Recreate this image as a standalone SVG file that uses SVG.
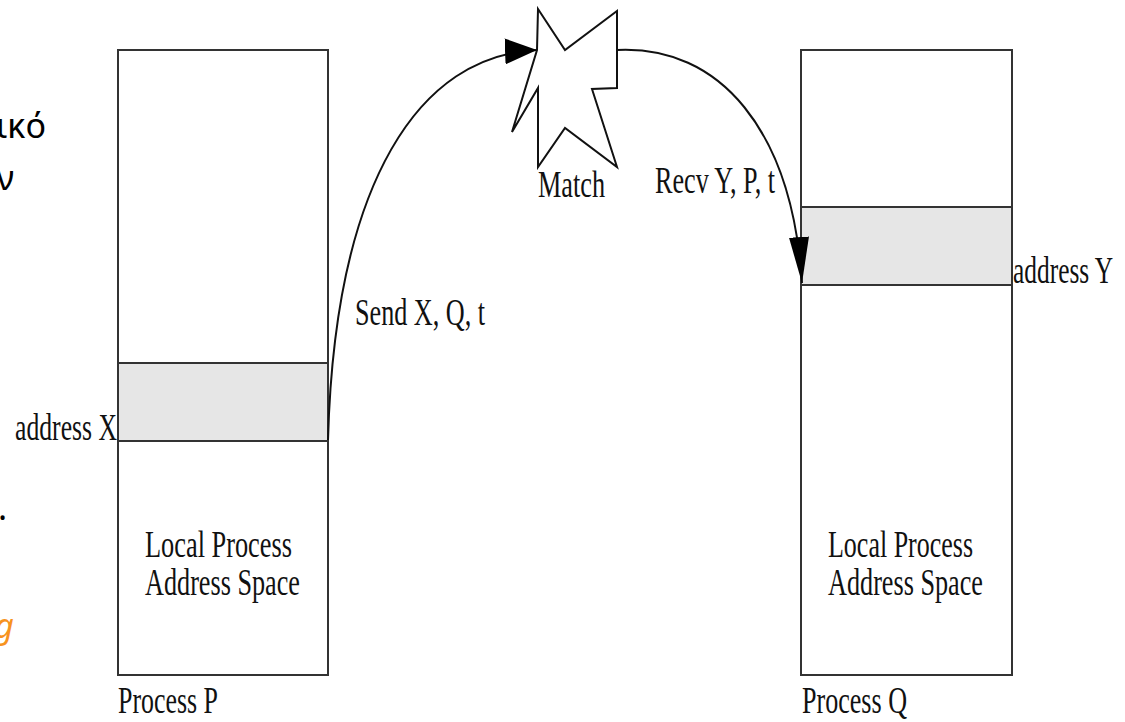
<svg xmlns="http://www.w3.org/2000/svg" width="1125" height="722" viewBox="0 0 1125 722">
<defs>
<style>
.box{fill:#fff;stroke:#333;stroke-width:2}
.band{fill:#e6e6e6;stroke:#333;stroke-width:2}
.lbl{font-family:"Liberation Serif","Times New Roman",serif;font-size:38px;fill:#111}
.slide{font-family:"Noto Sans","Open Sans",sans-serif;font-size:34px;fill:#000}
.conn{fill:none;stroke:#111;stroke-width:2}
</style>
<marker id="ahA" viewBox="0 0 32 26" refX="32" refY="13" markerWidth="32" markerHeight="26" markerUnits="userSpaceOnUse" orient="auto">
<path d="M0,0 L32,13 L0,26 Z" fill="#000"/>
</marker>
<marker id="ahB" viewBox="0 0 46 20" refX="46" refY="10" markerWidth="46" markerHeight="20" markerUnits="userSpaceOnUse" orient="auto">
<path d="M0,0 L46,10 L0,20 Z" fill="#000"/>
</marker>
</defs>
<rect width="1125" height="722" fill="#fff"/>

<g id="slide-fragments">
<text class="slide" x="46" y="138" text-anchor="end">ικό</text>
<text class="slide" x="14" y="190" text-anchor="end">ν</text>
<text class="slide" x="-2" y="520">.</text>
<text class="slide" x="14" y="638" text-anchor="end" font-style="italic" style="fill:#F7931E">g</text>
</g>

<g id="process-p">
<rect class="box" x="118" y="50" width="210" height="625"/>
<rect class="band" x="118" y="363" width="210" height="78"/>
<text class="lbl" x="15" y="440" textLength="102" lengthAdjust="spacingAndGlyphs">address X</text>
<text class="lbl" x="145" y="557" textLength="147" lengthAdjust="spacingAndGlyphs">Local Process</text>
<text class="lbl" x="145" y="595" textLength="155" lengthAdjust="spacingAndGlyphs">Address Space</text>
<text class="lbl" x="118" y="713" textLength="100" lengthAdjust="spacingAndGlyphs">Process P</text>
</g>

<g id="process-q">
<rect class="box" x="801" y="50" width="211" height="625"/>
<rect class="band" x="801" y="207" width="211" height="78"/>
<text class="lbl" x="1013" y="283" textLength="100" lengthAdjust="spacingAndGlyphs">address Y</text>
<text class="lbl" x="828" y="557" textLength="145" lengthAdjust="spacingAndGlyphs">Local Process</text>
<text class="lbl" x="828" y="595" textLength="155" lengthAdjust="spacingAndGlyphs">Address Space</text>
<text class="lbl" x="802" y="713" textLength="105" lengthAdjust="spacingAndGlyphs">Process Q</text>
</g>

<g id="match">
<polygon points="538,9 565,50 617,11 617,88 592,89 617,167 565,128 538,167 538,88 512,132 537,50" fill="#fff" stroke="#111" stroke-width="2" stroke-linejoin="miter"/>
<text class="lbl" x="538" y="197" textLength="67" lengthAdjust="spacingAndGlyphs">Match</text>
</g>

<g id="connectors">
<path class="conn" d="M328,440 C335,180 420,55 537,50" marker-end="url(#ahA)"/>
<text class="lbl" x="355" y="325" textLength="130" lengthAdjust="spacingAndGlyphs">Send X, Q, t</text>
<path class="conn" d="M617,50 C720,45 792,130 802,283" marker-end="url(#ahB)"/>
<text class="lbl" x="655" y="193" textLength="120" lengthAdjust="spacingAndGlyphs">Recv Y, P, t</text>
</g>
</svg>
